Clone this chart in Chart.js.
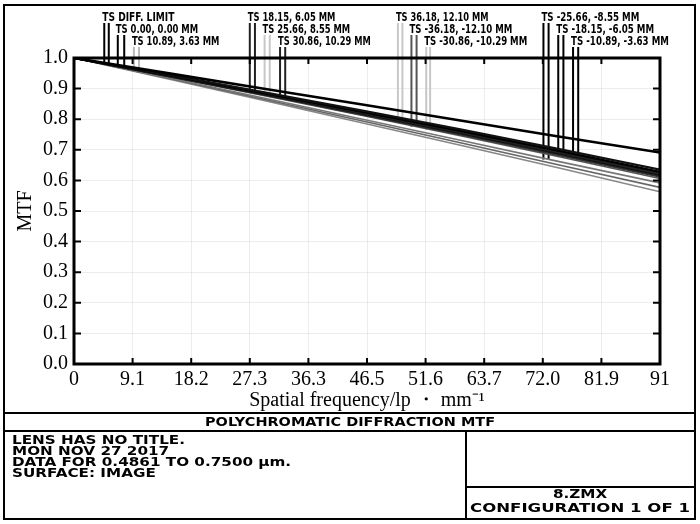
<!DOCTYPE html>
<html lang="en">
<head>
    <meta charset="UTF-8">
    <title>Polychromatic Diffraction MTF</title>
    <script src="https://cdn.jsdelivr.net/npm/chart.js"></script>
    <style>
        body {
            margin: 0;
            padding: 0;
            background-color: #fff;
        }
        canvas {
            display: block;
        }
    </style>
</head>
<body>

    <canvas id="mtfChart" width="700" height="524"></canvas>

    <script>
        // spatial frequency samples (lp/mm)
        const freq = [0, 15, 30, 45, 60, 75, 91];

        // MTF values
        const diffLimit = [1.000, 0.949, 0.898, 0.847, 0.796, 0.744, 0.691];
        const fieldA = [1.000, 0.944, 0.886, 0.827, 0.767, 0.704, 0.635];
        const fieldB = [1.000, 0.942, 0.883, 0.823, 0.762, 0.698, 0.628];
        const fieldC = [1.000, 0.941, 0.881, 0.820, 0.758, 0.693, 0.622];
        const fieldD = [1.000, 0.940, 0.879, 0.817, 0.754, 0.689, 0.617];
        const fieldE = [1.000, 0.939, 0.877, 0.814, 0.750, 0.684, 0.612];
        const fieldF = [1.000, 0.938, 0.875, 0.811, 0.746, 0.679, 0.606];
        const fieldG = [1.000, 0.934, 0.867, 0.799, 0.731, 0.663, 0.592];
        const fieldH = [1.000, 0.932, 0.863, 0.793, 0.723, 0.652, 0.577];
        const fieldI = [1.000, 0.930, 0.859, 0.787, 0.715, 0.642, 0.563];

        // axis ticks
        const xTickValues = [0, 9.1, 18.2, 27.3, 36.4, 45.5, 54.6, 63.7, 72.8, 81.9, 91];
        const xTickLabels = ['0', '9.1', '18.2', '27.3', '36.3', '46.5', '51.6', '63.7', '72.0', '81.9', '91'];
        const yTickValues = [0, 0.1, 0.2, 0.3, 0.4, 0.5, 0.6, 0.7, 0.8, 0.9, 1.0];

        // legend markers (T and S line for each field)
        const markerLabels = [
            'TS DIFF. LIMIT', 'TS 0.00, 0.00 MM', 'TS 10.89, 3.63 MM',
            'TS 18.15, 6.05 MM', 'TS 25.66, 8.55 MM', 'TS 30.86, 10.29 MM',
            'TS 36.18, 12.10 MM', 'TS -36.18, -12.10 MM', 'TS -30.86, -10.29 MM',
            'TS -25.66, -8.55 MM', 'TS -18.15, -6.05 MM', 'TS -10.89, -3.63 MM'
        ];
        const markerX = [
            [4.7, 5.4], [6.8, 7.8], [9.3, 10.1],
            [27.3, 28.1], [29.6, 30.4], [32.0, 32.8],
            [50.3, 51.0], [52.4, 53.2], [54.7, 55.3],
            [72.9, 73.7], [75.2, 76.0], [77.5, 78.3]
        ];
        const markerTop = [1.114, 1.075, 1.036, 1.114, 1.075, 1.036, 1.114, 1.075, 1.036, 1.114, 1.075, 1.036];
        const markerEnd = [0.984, 0.968, 0.958, 0.892, 0.878, 0.866, 0.790, 0.775, 0.765, 0.668, 0.683, 0.680];

        // styles
        const curveStyles = [
            ['#000', 2.6], ['#111', 2.2], ['#000', 2.2], ['#222', 2.2], ['#111', 2.2],
            ['#333', 2], ['#555', 1.6], ['#777', 1.6], ['#666', 1.6], ['#888', 1.6]
        ];
        const markerColors = ['#000', '#000', '#bbb', '#222', '#c8c8c8', '#222',
                              '#c8c8c8', '#555', '#c8c8c8', '#000', '#000', '#000'];

        const curves = [diffLimit, fieldA, fieldB, fieldC, fieldD, fieldE, fieldF, fieldG, fieldH, fieldI];

        const datasets = curves.map((arr, i) => ({
            data: freq.map((f, k) => ({ x: f, y: arr[k] })),
            borderColor: curveStyles[i][0],
            borderWidth: curveStyles[i][1],
            pointRadius: 0,
            tension: 0
        }));

        markerX.forEach((pair, i) => {
            pair.forEach(x => {
                datasets.push({
                    data: [{ x: x, y: markerTop[i] }, { x: x, y: markerEnd[i] }],
                    borderColor: markerColors[i],
                    borderWidth: 2,
                    pointRadius: 0,
                    clip: false
                });
            });
        });

        // draw text squeezed to a given width
        function fitText(ctx, text, x, y, width, align) {
            const w = ctx.measureText(text).width;
            ctx.save();
            ctx.translate(x, y);
            ctx.scale(width / w, 1);
            ctx.textAlign = align;
            ctx.fillText(text, 0, 0);
            ctx.restore();
        }

        const zemaxFont = 'bold 13px "DejaVu Sans"';

        // plot frame, inward ticks, marker labels and info block
        const framePlugin = {
            id: 'frame',
            afterDatasetsDraw(chart) {
                const ctx = chart.ctx;
                const a = chart.chartArea;
                const xs = chart.scales.x;
                const ys = chart.scales.y;
                ctx.save();
                ctx.strokeStyle = '#000';
                ctx.lineWidth = 2;
                ctx.beginPath();
                xs.ticks.forEach(t => {
                    const px = xs.getPixelForValue(t.value);
                    ctx.moveTo(px, a.bottom); ctx.lineTo(px, a.bottom - 6);
                    ctx.moveTo(px, a.top); ctx.lineTo(px, a.top + 6);
                });
                ys.ticks.forEach(t => {
                    const py = ys.getPixelForValue(t.value);
                    ctx.moveTo(a.left, py); ctx.lineTo(a.left + 7, py);
                    ctx.moveTo(a.right, py); ctx.lineTo(a.right - 7, py);
                });
                ctx.stroke();
                ctx.lineWidth = 3;
                ctx.strokeRect(a.left, a.top, a.right - a.left, a.bottom - a.top);

                // marker labels
                ctx.fillStyle = '#000';
                ctx.font = 'bold 12px "DejaVu Sans Condensed"';
                ctx.textBaseline = 'alphabetic';
                markerLabels.forEach((label, i) => {
                    const px = xs.getPixelForValue(markerX[i][0]) - 2;
                    const py = ys.getPixelForValue(markerTop[i]) - 2;
                    fitText(ctx, label, px, py, label.length * 5.15, 'left');
                });
                ctx.restore();
            },
            afterDraw(chart) {
                const ctx = chart.ctx;
                ctx.save();
                ctx.strokeStyle = '#000';
                ctx.lineWidth = 2;
                ctx.strokeRect(4, 5, 691, 514);
                ctx.beginPath();
                ctx.moveTo(4, 413); ctx.lineTo(695, 413);
                ctx.moveTo(4, 431); ctx.lineTo(695, 431);
                ctx.moveTo(466, 431); ctx.lineTo(466, 519);
                ctx.moveTo(466, 487); ctx.lineTo(695, 487);
                ctx.stroke();

                ctx.fillStyle = '#000';
                ctx.font = zemaxFont;
                ctx.textBaseline = 'middle';
                fitText(ctx, 'POLYCHROMATIC DIFFRACTION MTF', 350, 423, 290, 'center');

                const info = ['LENS HAS NO TITLE.', 'MON NOV 27 2017',
                              'DATA FOR 0.4861 TO 0.7500 \u00b5m.', 'SURFACE: IMAGE'];
                const sx = 173 / ctx.measureText(info[0]).width;
                info.forEach((line, i) => {
                    fitText(ctx, line, 12, 441 + i * 11, ctx.measureText(line).width * sx, 'left');
                });
                fitText(ctx, '8.ZMX', 580, 495, ctx.measureText('8.ZMX').width * sx, 'center');
                fitText(ctx, 'CONFIGURATION 1 OF 1', 580, 509, 220, 'center');
                ctx.restore();
            }
        };

        const serif = { family: '"Liberation Serif", "Times New Roman", serif', size: 20 };

        new Chart(document.getElementById('mtfChart').getContext('2d'), {
            type: 'line',
            data: { datasets: datasets },
            options: {
                responsive: false,
                animation: false,
                devicePixelRatio: 1,
                layout: { padding: { top: 58, right: 40, bottom: 108, left: 0 } },
                plugins: { legend: { display: false }, tooltip: { enabled: false } },
                scales: {
                    x: {
                        type: 'linear',
                        min: 0,
                        max: 91,
                        afterBuildTicks: s => { s.ticks = xTickValues.map(v => ({ value: v })); },
                        afterFit: s => { s.height = 52; },
                        ticks: {
                            callback: (v, i) => xTickLabels[i],
                            font: serif,
                            color: '#000',
                            maxRotation: 0,
                            autoSkip: false,
                            padding: 4
                        },
                        grid: { color: 'rgba(0,0,0,0.07)', drawTicks: false },
                        border: { display: false },
                        title: {
                            display: true,
                            text: 'Spatial frequency/lp \u30fb mm\u207b\u00b9',
                            font: serif,
                            color: '#000',
                            padding: { top: 0, bottom: 3 }
                        }
                    },
                    y: {
                        type: 'linear',
                        min: 0,
                        max: 1,
                        afterBuildTicks: s => { s.ticks = yTickValues.map(v => ({ value: v })); },
                        afterFit: s => { s.width = 74; },
                        ticks: {
                            callback: v => v.toFixed(1),
                            font: serif,
                            color: '#000',
                            padding: 6
                        },
                        grid: { color: 'rgba(0,0,0,0.07)', drawTicks: false },
                        border: { display: false },
                        title: {
                            display: true,
                            text: 'MTF',
                            font: serif,
                            color: '#000',
                            padding: { top: 14, bottom: 0 }
                        }
                    }
                }
            },
            plugins: [framePlugin]
        });
    </script>

</body>
</html>
